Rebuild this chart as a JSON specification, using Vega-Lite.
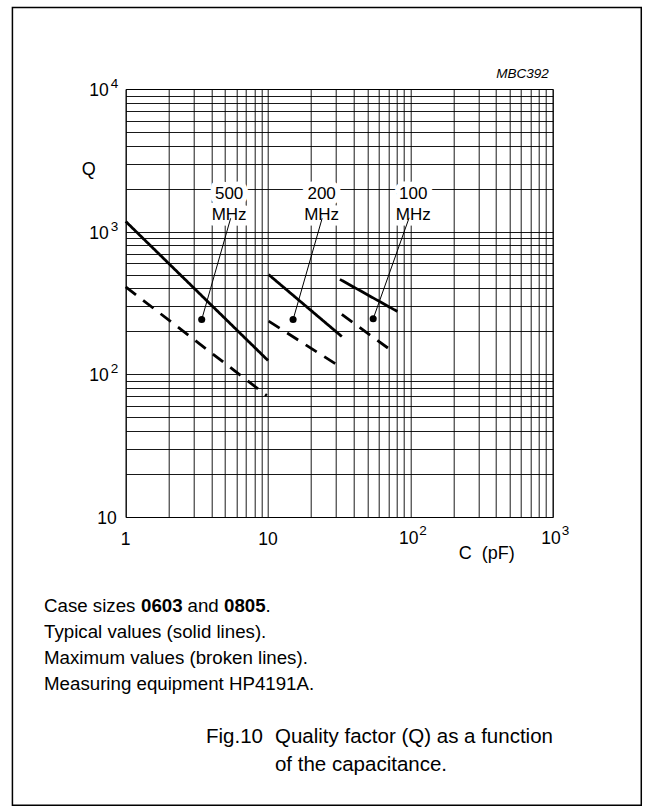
{
  "$schema": "https://vega.github.io/schema/vega-lite/v6.json",
  "width": 427,
  "height": 428,
  "autosize": {"type": "none"},
  "padding": {"left": 125.7, "top": 89, "right": 101.3, "bottom": 295},
  "background": "white",
  "config": {
    "view": {"stroke": "#000", "strokeWidth": 1},
    "text": {"font": "Liberation Sans", "color": "#000"}
  },
  "datasets": {
    "curves": [
      {"series": "500 typ", "kind": "typ", "C": 1, "Q": 1180},
      {"series": "500 typ", "kind": "typ", "C": 10, "Q": 125},
      {"series": "500 max", "kind": "max", "C": 1, "Q": 410},
      {"series": "500 max", "kind": "max", "C": 9.8, "Q": 71},
      {"series": "200 typ", "kind": "typ", "C": 10.1, "Q": 500},
      {"series": "200 typ", "kind": "typ", "C": 33, "Q": 184},
      {"series": "200 max", "kind": "max", "C": 10.1, "Q": 236},
      {"series": "200 max", "kind": "max", "C": 33, "Q": 111},
      {"series": "100 typ", "kind": "typ", "C": 32, "Q": 463},
      {"series": "100 typ", "kind": "typ", "C": 81, "Q": 276},
      {"series": "100 max", "kind": "max", "C": 33, "Q": 263},
      {"series": "100 max", "kind": "max", "C": 77, "Q": 142}
    ],
    "marks": [
      {"freq": "500", "label": "500\nMHz", "C_label": 5.33, "Q_label": 1836, "C_dot": 3.42, "Q_dot": 242, "C_top": 5.46, "Q_top": 1240},
      {"freq": "200", "label": "200\nMHz", "C_label": 23.8, "Q_label": 1836, "C_dot": 15.0, "Q_dot": 242, "C_top": 24.0, "Q_top": 1240},
      {"freq": "100", "label": "100\nMHz", "C_label": 104.7, "Q_label": 1836, "C_dot": 54.8, "Q_dot": 245, "C_top": 98, "Q_top": 1250}
    ],
    "yticks": [
      {"Q": 10000, "exp": "4"},
      {"Q": 1000, "exp": "3"},
      {"Q": 100, "exp": "2"}
    ],
    "xticks": [
      {"C": 100, "exp": "2"},
      {"C": 1000, "exp": "3"}
    ]
  },
  "layer": [
    {
      "data": {"name": "curves"},
      "mark": {"type": "line", "color": "#000", "strokeWidth": 2.8, "strokeCap": "butt"},
      "encoding": {
        "x": {
          "field": "C", "type": "quantitative",
          "scale": {"type": "log", "domain": [1, 1000], "nice": false},
          "axis": {
            "values": [1, 2, 3, 4, 5, 6, 7, 8, 9, 10, 20, 30, 40, 50, 60, 70, 80, 90, 100, 200, 300, 400, 500, 600, 700, 800, 900, 1000],
            "grid": true, "gridColor": "#000", "gridOpacity": 0.9, "gridWidth": 1,
            "labels": false, "ticks": false, "domain": false, "title": null
          }
        },
        "y": {
          "field": "Q", "type": "quantitative",
          "scale": {"type": "log", "domain": [10, 10000], "nice": false},
          "axis": {
            "values": [10, 20, 30, 40, 50, 60, 70, 80, 90, 100, 200, 300, 400, 500, 600, 700, 800, 900, 1000, 2000, 3000, 4000, 5000, 6000, 7000, 8000, 9000, 10000],
            "grid": true, "gridColor": "#000", "gridOpacity": 0.9, "gridWidth": 1,
            "labels": false, "ticks": false, "domain": false, "title": null
          }
        },
        "detail": {"field": "series", "type": "nominal"},
        "strokeDash": {
          "field": "kind", "type": "nominal",
          "scale": {"domain": ["typ", "max"], "range": [[1, 0], [13, 9]]},
          "legend": null
        }
      }
    },
    {
      "data": {"name": "marks"},
      "mark": {"type": "text", "fontSize": 17, "lineHeight": 21, "lineBreak": "\n", "align": "center", "baseline": "middle", "stroke": "#fff", "strokeWidth": 11, "strokeJoin": "round", "fill": "#fff"},
      "encoding": {
        "x": {"field": "C_label", "type": "quantitative"},
        "y": {"field": "Q_label", "type": "quantitative"},
        "text": {"field": "label"}
      }
    },
    {
      "data": {"name": "marks"},
      "mark": {"type": "rule", "color": "#000", "strokeWidth": 1},
      "encoding": {
        "x": {"field": "C_dot", "type": "quantitative"},
        "y": {"field": "Q_dot", "type": "quantitative"},
        "x2": {"field": "C_top"},
        "y2": {"field": "Q_top"}
      }
    },
    {
      "data": {"name": "marks"},
      "mark": {"type": "circle", "size": 50, "color": "#000", "opacity": 1},
      "encoding": {
        "x": {"field": "C_dot", "type": "quantitative"},
        "y": {"field": "Q_dot", "type": "quantitative"}
      }
    },
    {
      "data": {"name": "marks"},
      "mark": {"type": "text", "fontSize": 17, "lineHeight": 21, "lineBreak": "\n", "align": "center", "baseline": "middle"},
      "encoding": {
        "x": {"field": "C_label", "type": "quantitative"},
        "y": {"field": "Q_label", "type": "quantitative"},
        "text": {"field": "label"}
      }
    },
    {
      "data": {"name": "yticks"},
      "mark": {"type": "text", "text": "10", "fontSize": 17.5, "align": "right", "baseline": "middle", "dx": -17, "dy": 2},
      "encoding": {
        "x": {"datum": 1, "type": "quantitative"},
        "y": {"field": "Q", "type": "quantitative"}
      }
    },
    {
      "data": {"name": "yticks"},
      "mark": {"type": "text", "fontSize": 13.5, "align": "left", "baseline": "middle", "dx": -15, "dy": -5},
      "encoding": {
        "x": {"datum": 1, "type": "quantitative"},
        "y": {"field": "Q", "type": "quantitative"},
        "text": {"field": "exp"}
      }
    },
    {
      "data": {"values": [{"t": "10"}]},
      "mark": {"type": "text", "fontSize": 17.5, "align": "right", "baseline": "middle", "dx": -9, "dy": 2},
      "encoding": {
        "x": {"datum": 1, "type": "quantitative"},
        "y": {"datum": 10, "type": "quantitative"},
        "text": {"field": "t"}
      }
    },
    {
      "data": {"values": [{"t": "1", "C": 1}, {"t": "10", "C": 10}]},
      "mark": {"type": "text", "fontSize": 17.5, "align": "center", "baseline": "middle", "dy": 23},
      "encoding": {
        "x": {"field": "C", "type": "quantitative"},
        "y": {"datum": 10, "type": "quantitative"},
        "text": {"field": "t"}
      }
    },
    {
      "data": {"name": "xticks"},
      "mark": {"type": "text", "text": "10", "fontSize": 17.5, "align": "right", "baseline": "middle", "dx": 8, "dy": 22},
      "encoding": {
        "x": {"field": "C", "type": "quantitative"},
        "y": {"datum": 10, "type": "quantitative"}
      }
    },
    {
      "data": {"name": "xticks"},
      "mark": {"type": "text", "fontSize": 13.5, "align": "left", "baseline": "middle", "dx": 9, "dy": 14},
      "encoding": {
        "x": {"field": "C", "type": "quantitative"},
        "y": {"datum": 10, "type": "quantitative"},
        "text": {"field": "exp"}
      }
    },
    {
      "data": {"values": [{"t": "C\u00a0\u00a0(pF)"}]},
      "mark": {"type": "text", "fontSize": 18, "align": "center", "baseline": "middle"},
      "encoding": {
        "x": {"datum": 344, "type": "quantitative"},
        "y": {"datum": 5.5, "type": "quantitative"},
        "text": {"field": "t"}
      }
    },
    {
      "data": {"values": [{"t": "Q"}]},
      "mark": {"type": "text", "fontSize": 18, "align": "center", "baseline": "middle"},
      "encoding": {
        "x": {"datum": 0.55, "type": "quantitative"},
        "y": {"datum": 2699, "type": "quantitative"},
        "text": {"field": "t"}
      }
    },
    {
      "data": {"values": [{"t": "MBC392"}]},
      "mark": {"type": "text", "fontSize": 13.5, "fontStyle": "italic", "align": "right", "baseline": "middle", "dx": -4},
      "encoding": {
        "x": {"datum": 1000, "type": "quantitative"},
        "y": {"datum": 12745, "type": "quantitative"},
        "text": {"field": "t"}
      }
    },
    {
      "data": {"values": [{"t": "Case sizes "}]},
      "mark": {"type": "text", "fontSize": 18.7, "align": "left", "baseline": "middle"},
      "encoding": {
        "x": {"datum": 0.2669, "type": "quantitative"},
        "y": {"datum": 2.378, "type": "quantitative"},
        "text": {"field": "t"}
      }
    },
    {
      "data": {"values": [{"t": "0603"}]},
      "mark": {"type": "text", "fontSize": 18.7, "fontWeight": "bold", "align": "left", "baseline": "middle", "dx": 97},
      "encoding": {
        "x": {"datum": 0.2669, "type": "quantitative"},
        "y": {"datum": 2.378, "type": "quantitative"},
        "text": {"field": "t"}
      }
    },
    {
      "data": {"values": [{"t": "and"}]},
      "mark": {"type": "text", "fontSize": 18.7, "align": "left", "baseline": "middle", "dx": 143.5},
      "encoding": {
        "x": {"datum": 0.2669, "type": "quantitative"},
        "y": {"datum": 2.378, "type": "quantitative"},
        "text": {"field": "t"}
      }
    },
    {
      "data": {"values": [{"t": "0805"}]},
      "mark": {"type": "text", "fontSize": 18.7, "fontWeight": "bold", "align": "left", "baseline": "middle", "dx": 180},
      "encoding": {
        "x": {"datum": 0.2669, "type": "quantitative"},
        "y": {"datum": 2.378, "type": "quantitative"},
        "text": {"field": "t"}
      }
    },
    {
      "data": {"values": [{"t": "."}]},
      "mark": {"type": "text", "fontSize": 18.7, "align": "left", "baseline": "middle", "dx": 221.5},
      "encoding": {
        "x": {"datum": 0.2669, "type": "quantitative"},
        "y": {"datum": 2.378, "type": "quantitative"},
        "text": {"field": "t"}
      }
    },
    {
      "data": {"values": [{"t": "Typical values (solid lines)."}]},
      "mark": {"type": "text", "fontSize": 18.7, "align": "left", "baseline": "middle"},
      "encoding": {
        "x": {"datum": 0.2669, "type": "quantitative"},
        "y": {"datum": 1.562, "type": "quantitative"},
        "text": {"field": "t"}
      }
    },
    {
      "data": {"values": [{"t": "Maximum values (broken lines)."}]},
      "mark": {"type": "text", "fontSize": 18.7, "align": "left", "baseline": "middle"},
      "encoding": {
        "x": {"datum": 0.2669, "type": "quantitative"},
        "y": {"datum": 1.026, "type": "quantitative"},
        "text": {"field": "t"}
      }
    },
    {
      "data": {"values": [{"t": "Measuring equipment HP4191A."}]},
      "mark": {"type": "text", "fontSize": 18.7, "align": "left", "baseline": "middle"},
      "encoding": {
        "x": {"datum": 0.2669, "type": "quantitative"},
        "y": {"datum": 0.674, "type": "quantitative"},
        "text": {"field": "t"}
      }
    },
    {
      "data": {"values": [{"t": "Fig.10"}]},
      "mark": {"type": "text", "fontSize": 20.5, "align": "left", "baseline": "alphabetic"},
      "encoding": {
        "x": {"datum": 3.664, "type": "quantitative"},
        "y": {"datum": 0.2597, "type": "quantitative"},
        "text": {"field": "t"}
      }
    },
    {
      "data": {"values": [{"t": "Quality factor (Q) as a function\nof the capacitance."}]},
      "mark": {"type": "text", "fontSize": 20.5, "lineHeight": 28, "lineBreak": "\n", "align": "left", "baseline": "alphabetic", "dx": 69},
      "encoding": {
        "x": {"datum": 3.664, "type": "quantitative"},
        "y": {"datum": 0.2597, "type": "quantitative"},
        "text": {"field": "t"}
      }
    },
    {
      "data": {"values": [{}]},
      "mark": {"type": "rect", "fillOpacity": 0, "stroke": "#000", "strokeWidth": 1.5},
      "encoding": {
        "x": {"datum": 0.16, "type": "quantitative"},
        "x2": {"datum": 4191},
        "y": {"datum": 37228, "type": "quantitative"},
        "y2": {"datum": 0.0953}
      }
    }
  ]
}
